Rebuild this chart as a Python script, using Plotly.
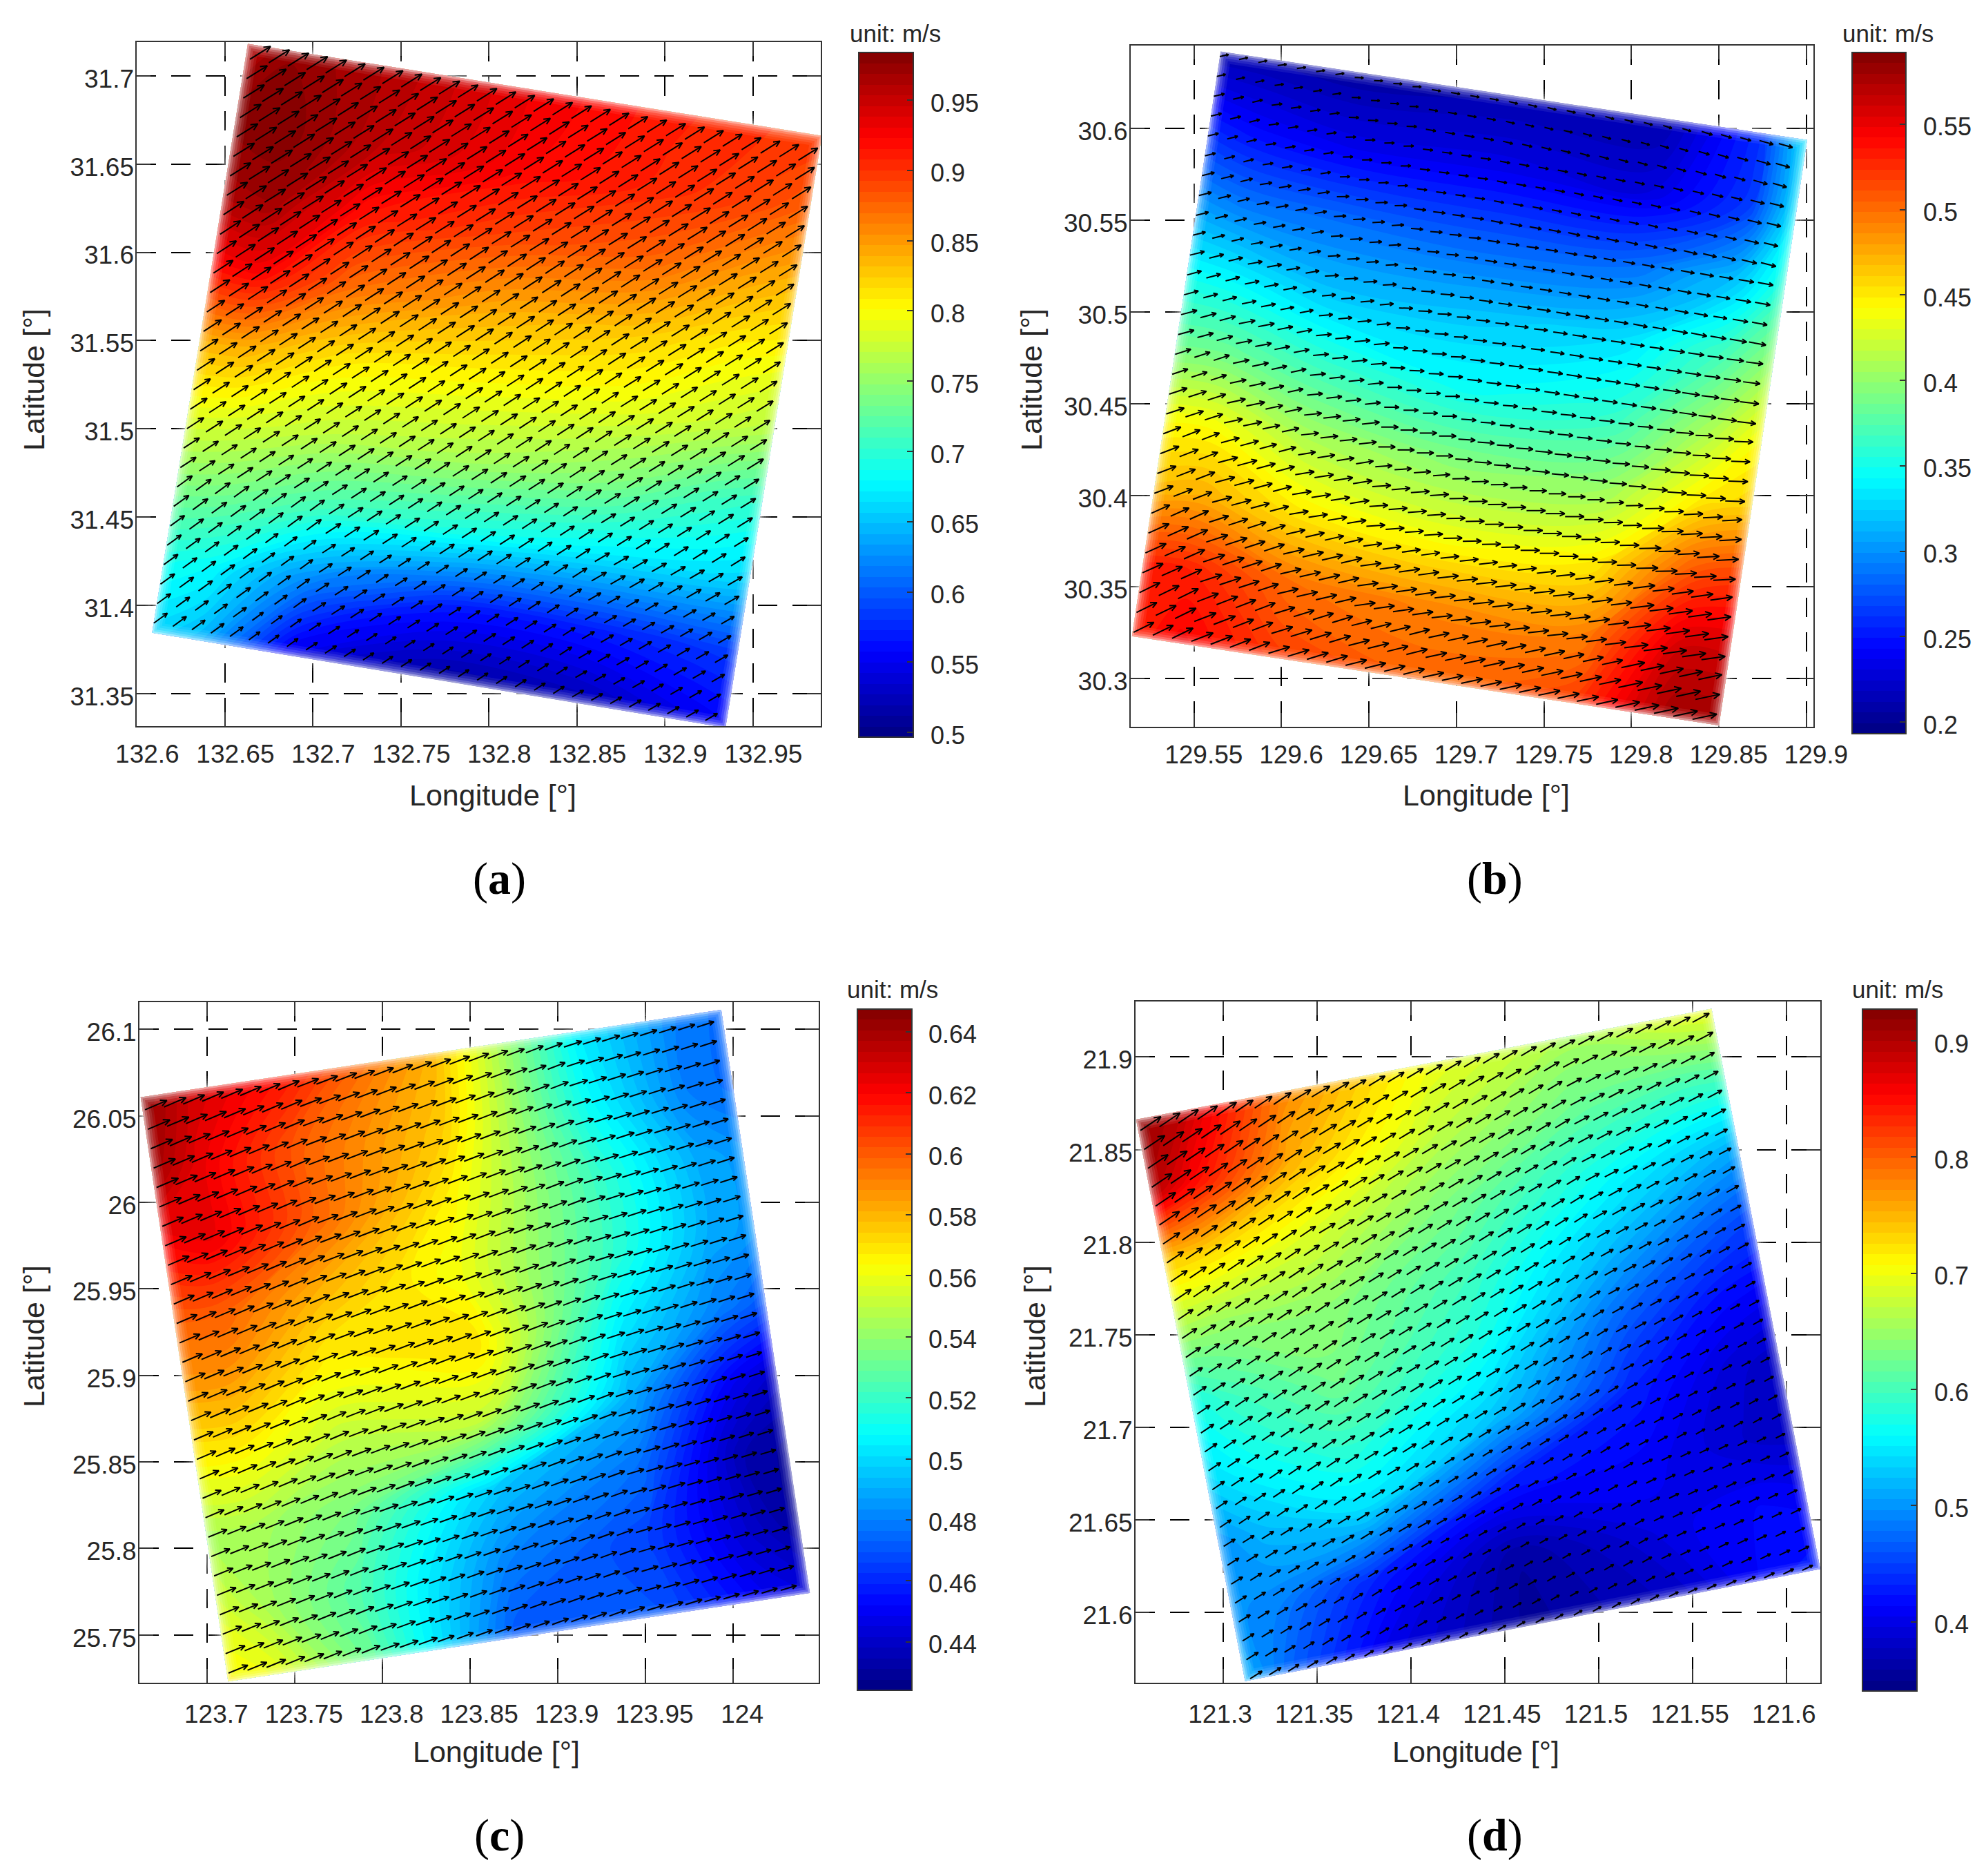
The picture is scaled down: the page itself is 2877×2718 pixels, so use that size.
import numpy as np
import plotly.graph_objects as go

W, H = 2877, 2718
PAGE = 8  # default body margin of the written page

# corners of the rotated patch: top-left, top-right, bottom-right, bottom-left
lon_a = [132.663, 132.9891, 132.9344, 132.6086]
lat_a = [31.7181, 31.666, 31.3306, 31.3844]
lon_b = [129.5652, 129.9004, 129.85, 129.5145]
lat_b = [30.6419, 30.5937, 30.2746, 30.3232]
lon_c = [123.662, 123.9932, 124.0438, 123.7119]
lat_c = [26.0608, 26.1113, 25.7743, 25.7231]
lon_d = [121.2538, 121.56, 121.6179, 121.3118]
lat_d = [21.8662, 21.9261, 21.6234, 21.5628]

# first/last arrow tails, same corner order
tail_lon_a = [132.6642, 132.9758, 132.9229, 132.6096]
tail_lat_a = [31.7094, 31.6522, 31.3347, 31.3899]
tail_lon_b = [129.5647, 129.8842, 129.8349, 129.5154]
tail_lat_b = [30.6391, 30.5917, 30.2779, 30.3253]
tail_lon_c = [123.6645, 123.9795, 124.0271, 123.7121]
tail_lat_c = [26.0535, 26.1013, 25.7758, 25.7280]
tail_lon_d = [121.2561, 121.5499, 121.6083, 121.3145]
tail_lat_d = [21.8603, 21.9188, 21.6227, 21.5642]

col_frac = [0, 0.08, 0.25, 0.5, 0.75, 0.92, 1]
row_frac = [0, 0.125, 0.25, 0.375, 0.5, 0.625, 0.75, 0.875, 1]

# current speed, rows top to bottom along the patch
speed_a = [
    [.96, .975, .96, .93, .91, .90, .90],
    [.98, .983, .955, .925, .905, .89, .875],
    [.965, .97, .915, .89, .875, .845, .835],
    [.92, .925, .87, .84, .825, .805, .80],
    [.84, .84, .81, .80, .79, .775, .765],
    [.79, .785, .77, .76, .74, .71, .70],
    [.74, .735, .71, .69, .67, .665, .66],
    [.69, .68, .62, .57, .57, .58, .585],
    [.66, .645, .54, .51, .52, .545, .555],
]
speed_b = [
    [.21, .21, .205, .21, .21, .26, .335],
    [.255, .245, .235, .235, .23, .265, .335],
    [.30, .29, .285, .28, .285, .32, .36],
    [.345, .34, .32, .32, .33, .37, .40],
    [.385, .385, .365, .345, .36, .41, .44],
    [.44, .44, .41, .395, .40, .45, .46],
    [.47, .475, .45, .435, .445, .51, .52],
    [.53, .53, .50, .49, .49, .56, .56],
    [.53, .545, .52, .505, .52, .58, .58],
]
speed_c = [
    [.645, .63, .615, .58, .505, .48, .475],
    [.64, .625, .60, .575, .51, .48, .475],
    [.62, .625, .60, .565, .52, .49, .485],
    [.60, .60, .58, .56, .52, .49, .485],
    [.585, .585, .565, .57, .505, .48, .47],
    [.565, .565, .55, .55, .49, .45, .44],
    [.545, .545, .535, .495, .475, .435, .43],
    [.555, .545, .525, .48, .465, .44, .43],
    [.565, .56, .53, .47, .47, .45, .445],
]
speed_d = [
    [.92, .89, .78, .70, .66, .69, .70],
    [.90, .85, .75, .67, .62, .60, .60],
    [.74, .73, .69, .63, .57, .53, .51],
    [.66, .65, .645, .60, .525, .47, .45],
    [.575, .60, .63, .575, .47, .42, .41],
    [.545, .565, .59, .53, .43, .39, .38],
    [.50, .52, .54, .43, .41, .385, .38],
    [.50, .49, .43, .36, .40, .415, .41],
    [.52, .47, .40, .355, .38, .42, .43],
]

# arrow direction in degrees, as drawn on the page
angle_a = [[32, 32, 32], [33, 33, 32], [36, 33, 30]]
angle_b = [
    [13, 8, -2, -10, -14, -16, -17, -16],
    [14, 9, 1, -7, -11, -13, -14, -14],
    [14, 10, 3, -4, -8, -10, -11, -10],
    [15, 11, 5, -2, -6, -8, -8, -7],
    [18, 12, 6, 0, -4, -5, -4, -2],
    [21, 15, 9, 4, 1, 0, 1, 3],
    [24, 18, 13, 8, 6, 6, 7, 8],
    [26, 21, 17, 14, 12, 12, 12, 12],
]
angle_c = [[23, 21, 18], [23, 21, 18], [22, 20, 17]]
angle_d = [[34, 31, 28], [34, 32, 29], [32, 30, 26]]

xticks_a = [132.6, 132.65, 132.7, 132.75, 132.8, 132.85, 132.9, 132.95]
yticks_a = [31.35, 31.4, 31.45, 31.5, 31.55, 31.6, 31.65, 31.7]
cticks_a = [0.5, 0.55, 0.6, 0.65, 0.7, 0.75, 0.8, 0.85, 0.9, 0.95]
xticks_b = [129.55, 129.6, 129.65, 129.7, 129.75, 129.8, 129.85, 129.9]
yticks_b = [30.3, 30.35, 30.4, 30.45, 30.5, 30.55, 30.6]
cticks_b = [0.2, 0.25, 0.3, 0.35, 0.4, 0.45, 0.5, 0.55]
xticks_c = [123.7, 123.75, 123.8, 123.85, 123.9, 123.95, 124]
yticks_c = [25.75, 25.8, 25.85, 25.9, 25.95, 26, 26.05, 26.1]
cticks_c = [0.44, 0.46, 0.48, 0.5, 0.52, 0.54, 0.56, 0.58, 0.6, 0.62, 0.64]
xticks_d = [121.3, 121.35, 121.4, 121.45, 121.5, 121.55, 121.6]
yticks_d = [21.6, 21.65, 21.7, 21.75, 21.8, 21.85, 21.9]
cticks_d = [0.4, 0.5, 0.6, 0.7, 0.8, 0.9]

jet = [[0, "rgb(0,0,128)"], [0.125, "rgb(0,0,255)"], [0.375, "rgb(0,255,255)"],
       [0.625, "rgb(255,255,0)"], [0.875, "rgb(255,0,0)"], [1, "rgb(128,0,0)"]]

panels = [
    dict(name="a", lon=lon_a, lat=lat_a, tlon=tail_lon_a, tlat=tail_lat_a, speed=speed_a, angle=angle_a,
         xt=xticks_a, yt=yticks_a, ct=cticks_a,
         xr=[132.60, 132.9885], yr=[31.3315, 31.7191], cr=[0.4966, 0.984],
         frame=[198.4, 1189, 61, 1052], bar=[1244, 1323, 76, 1068], scale=36.7, shift=15, standoff=7,
         xtitle=(714, 1152), ytitle=(49, 550), cap=(723, 1273), unit=(1297, 48)),
    dict(name="b", lon=lon_b, lat=lat_b, tlon=tail_lon_b, tlat=tail_lat_b, speed=speed_b, angle=angle_b,
         xt=xticks_b, yt=yticks_b, ct=cticks_b,
         xr=[129.5138, 129.904], yr=[30.274, 30.6451], cr=[0.1932, 0.5919],
         frame=[1638, 2627, 66, 1052.5], bar=[2683, 2761, 76, 1063], scale=62, shift=14, standoff=7,
         xtitle=(2153, 1152), ytitle=(1494, 550), cap=(2165, 1273), unit=(2735, 48)),
    dict(name="c", lon=lon_c, lat=lat_c, tlon=tail_lon_c, tlat=tail_lat_c, speed=speed_c, angle=angle_c,
         xt=xticks_c, yt=yticks_c, ct=cticks_c,
         xr=[123.6613, 124.0488], yr=[25.7224, 26.1157], cr=[0.4241, 0.6474],
         frame=[202, 1186, 1452, 2438], bar=[1241.5, 1320, 1462, 2449], scale=53.5, shift=13, standoff=12,
         xtitle=(719, 2538), ytitle=(49, 1936), cap=(723, 2659), unit=(1293, 1433)),
    dict(name="d", lon=lon_d, lat=lat_d, tlon=tail_lon_d, tlat=tail_lat_d, speed=speed_d, angle=angle_d,
         xt=xticks_d, yt=yticks_d, ct=cticks_d,
         xr=[121.2535, 121.6179], yr=[21.562, 21.93], cr=[0.3405, 0.9274],
         frame=[1645, 2637, 1451, 2438], bar=[2698, 2777, 1462, 2450], scale=39, shift=-4, standoff=12,
         xtitle=(2138, 2538), ytitle=(1499, 1936), cap=(2165, 2659), unit=(2749, 1433)),
]

FONT = "Liberation Sans, Arial, sans-serif"
TXT = "#262626"


def fx(px):
    return (px - PAGE) / (W - PAGE)


def fy(px):
    return 1 - (px - PAGE) / (H - PAGE)


def patch(c, u, v):
    # bilinear position inside the rotated quad
    c = np.asarray(c)
    return (1 - v) * ((1 - u) * c[0] + u * c[1]) + v * ((1 - u) * c[3] + u * c[2])


def nearest(vals, x):
    return int(np.argmin(np.abs(np.asarray(vals) - x)))


def note(pos, text, size, family=FONT, angle=0, anchor="center"):
    annots.append(dict(x=fx(pos[0]), y=fy(pos[1]), xref="paper", yref="paper", text=text, showarrow=False,
                       xanchor=anchor, yanchor="middle", textangle=angle, xshift=0,
                       borderpad=0, font=dict(family=family, size=size, color=TXT if family == FONT else "black")))


fig = go.Figure()
annots = []
layout = {}

for k, p in enumerate(panels):
    sfx = "" if k == 0 else str(k + 1)
    xa, ya = "x" + sfx, "y" + sfx
    L, R, T, B = p["frame"]
    grid_x = [[patch(p["lon"], u, v) for u in col_frac] for v in row_frac]
    grid_y = [[patch(p["lat"], u, v) for u in col_frac] for v in row_frac]

    hidden = dict(showgrid=False, showline=False, showticklabels="none", startline=False,
                  endline=False, minorgridcount=0, smoothing=0)
    fig.add_trace(go.Carpet(a=col_frac, b=row_frac, x=grid_x, y=grid_y, carpet="c" + p["name"],
                            aaxis=hidden, baxis=hidden, xaxis=xa, yaxis=ya))

    lo, hi = p["cr"]
    bl, br, bt, bb = p["bar"]
    fig.add_trace(go.Contourcarpet(
        a=col_frac, b=row_frac, z=p["speed"], carpet="c" + p["name"],
        colorscale=jet, zmin=lo, zmax=hi, autocontour=False,
        contours=dict(start=lo, end=hi, size=(hi - lo) / 64, coloring="fill", showlines=False),
        line=dict(width=0), xaxis=xa, yaxis=ya,
        colorbar=dict(x=fx(bl), xanchor="left", xpad=0, y=fy(bt), yanchor="top", ypad=0,
                      thicknessmode="pixels", thickness=br - bl, lenmode="pixels", len=bb - bt,
                      outlinewidth=2, outlinecolor="#333333", borderwidth=0,
                      ticks="inside", ticklen=10, tickwidth=2, tickcolor="#333333",
                      tickvals=p["ct"], showticklabels=False)))

    # colorbar labels sit further from the bar than plotly allows
    for t in p["ct"]:
        note((br + 24, bt + (hi - t) / (hi - lo) * (bb - bt) + 4), f"{t:g}", 36, anchor="left")

    # soft fade at the patch edge
    ring_x = p["lon"] + p["lon"][:1]
    ring_y = p["lat"] + p["lat"][:1]
    for wd, al in [(32, 0.07), (25, 0.09), (18, 0.13), (11, 0.2), (5, 0.35)]:
        fig.add_trace(go.Scatter(x=ring_x, y=ring_y, mode="lines", hoverinfo="skip", showlegend=False,
                                 line=dict(color=f"rgba(255,255,255,{al})", width=wd), xaxis=xa, yaxis=ya))

    # quiver
    lon_per_px = (p["xr"][1] - p["xr"][0]) / (R - L)
    lat_per_px = (p["yr"][1] - p["yr"][0]) / (B - T)
    ang = p["angle"]
    ax, ay = [], []
    for i in range(30):
        for j in range(30):
            u, v = j / 29, i / 29
            x0 = patch(p["tlon"], u, v)
            y0 = patch(p["tlat"], u, v)
            s = p["speed"][nearest(row_frac, v)][nearest(col_frac, u)]
            th = np.radians(ang[round(v * (len(ang) - 1))][round(u * (len(ang[0]) - 1))])
            ln = s * p["scale"]
            x1 = x0 + ln * np.cos(th) * lon_per_px
            y1 = y0 + ln * np.sin(th) * lat_per_px
            hd = 0.3 * ln
            ax += [x0, x1, None]
            ay += [y0, y1, None]
            for side in (-1, 1):
                t2 = th + np.pi + side * np.radians(25)
                ax += [x1 + hd * np.cos(t2) * lon_per_px, x1, None]
                ay += [y1 + hd * np.sin(t2) * lat_per_px, y1, None]
    fig.add_trace(go.Scatter(x=ax, y=ay, mode="lines", hoverinfo="skip", showlegend=False,
                             line=dict(color="black", width=2), xaxis=xa, yaxis=ya))

    common = dict(showgrid=True, gridcolor="black", gridwidth=2.2, griddash="28px,22px", zeroline=False,
                  showline=True, linecolor="#333333", linewidth=2, mirror="ticks",
                  ticks="inside", ticklen=20, tickwidth=2, tickcolor="#333333",
                  layer="below traces", tickfont=dict(family=FONT, size=37, color=TXT))
    layout["xaxis" + sfx] = dict(common, domain=[fx(L), fx(R)], range=p["xr"], anchor=ya,
                                 tickvals=p["xt"], ticktext=[f"{t:g}" for t in p["xt"]],
                                 ticklabelshift=p["shift"], ticklabelstandoff=p["standoff"])
    layout["yaxis" + sfx] = dict(common, domain=[fy(B), fy(T)], range=p["yr"], anchor=xa,
                                 tickvals=p["yt"], ticktext=[f"{t:g}" for t in p["yt"]],
                                 ticklabelshift=4, ticklabelstandoff=-5)

    note(p["xtitle"], "Longitude [°]", 43)
    note(p["ytitle"], "Latitude [°]", 43, angle=-90)
    note(p["unit"], "unit: m/s", 35)
    note(p["cap"], "(<b>" + p["name"] + "</b>)", 66, family="Liberation Serif, serif")

fig.update_layout(width=W - PAGE, height=H - PAGE, margin=dict(l=0, r=0, t=0, b=0, autoexpand=False),
                  paper_bgcolor="white", plot_bgcolor="white", showlegend=False, annotations=annots, **layout)
fig.write_html("out.html")
